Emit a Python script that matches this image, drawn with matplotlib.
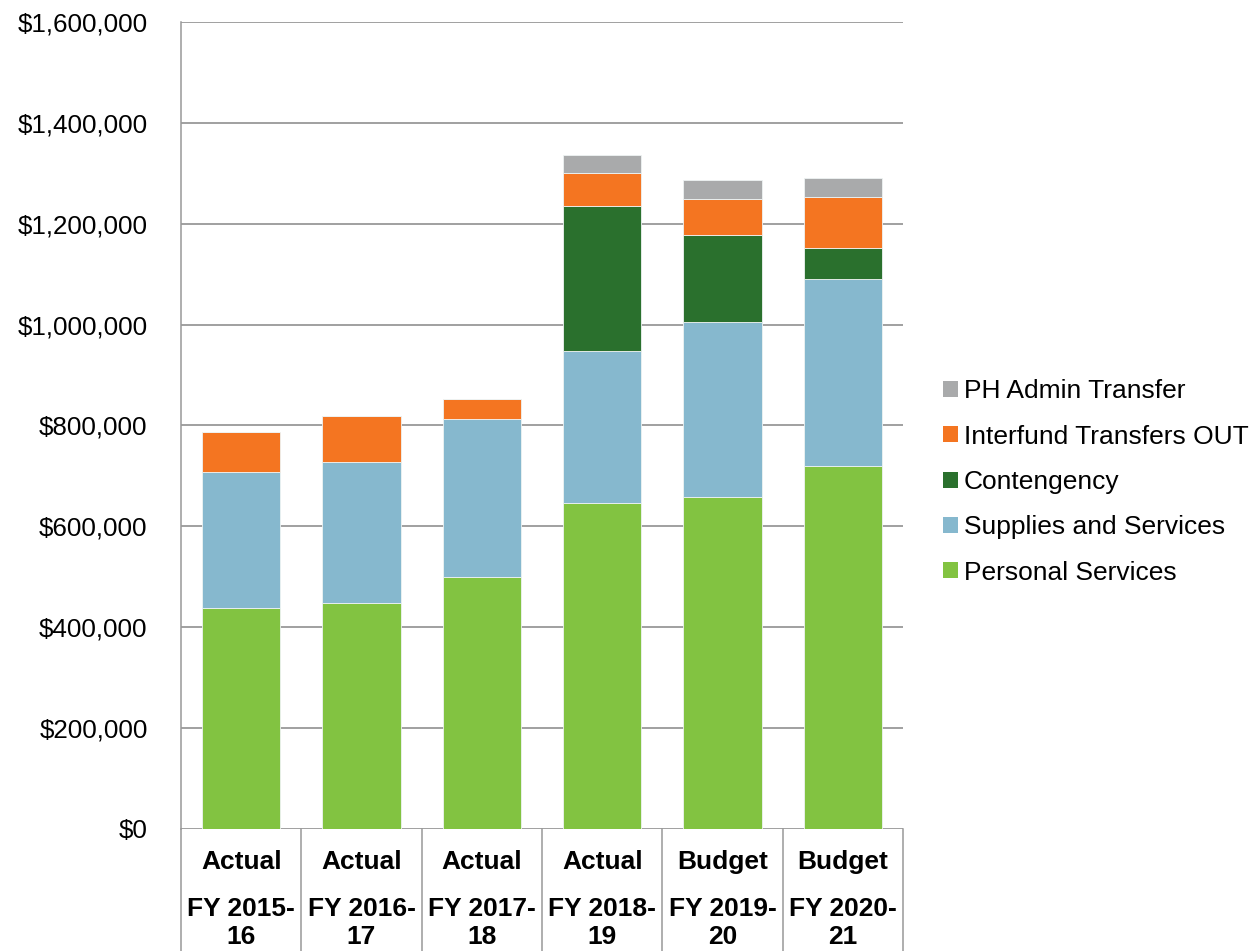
import matplotlib
matplotlib.use("Agg")
import matplotlib.pyplot as plt
from matplotlib.patches import Patch
from matplotlib.lines import Line2D
import matplotlib.transforms as mtransforms
import numpy as np

plt.rcParams['font.family'] = ['Liberation Sans', 'DejaVu Sans']

status_labels = ["Actual", "Actual", "Actual", "Actual", "Budget", "Budget"]
year_labels = ["FY 2015-\n16", "FY 2016-\n17", "FY 2017-\n18", "FY 2018-\n19", "FY 2019-\n20", "FY 2020-\n21"]

personal_services = [439000, 449000, 499000, 646000, 658000, 719000]
supplies_services = [268000, 278000, 314500, 301500, 346500, 371000]
contengency = [0, 0, 0, 288500, 173500, 62500]
interfund_transfers = [80000, 92000, 38500, 65500, 71000, 100500]
ph_admin_transfer = [0, 0, 0, 35000, 37000, 37000]

series_names = ["Personal Services", "Supplies and Services", "Contengency",
                "Interfund Transfers OUT", "PH Admin Transfer"]
series_values = [personal_services, supplies_services, contengency,
                 interfund_transfers, ph_admin_transfer]
colors = ["#82C341", "#86B8CE", "#2A702D", "#F47521", "#A9AAAB"]

yticks = [0, 200000, 400000, 600000, 800000, 1000000, 1200000, 1400000, 1600000]

fig = plt.figure(figsize=(12.54, 9.51), dpi=100)
ax = fig.add_axes([181/1254, 1-829/951, (903-181)/1254, (829-22)/951])

n = len(status_labels)
x = np.arange(n)
bottom = np.zeros(n)
for name, vals, c in zip(series_names, series_values, colors):
    v = np.array(vals, dtype=float)
    ax.bar(x, v, width=0.65, bottom=bottom, color=c, edgecolor="#eef3f3",
           linewidth=0.6, label=name, zorder=3)
    bottom += v

ax.set_xlim(-0.5, n - 0.5)
ax.set_ylim(0, 1600000)
ax.set_yticks(yticks)
ax.set_yticklabels([f"${v:,.0f}" for v in yticks], fontsize=18.7)
ax.tick_params(axis='y', length=0, pad=24)
ax.set_xticks([])
ax.grid(axis='y', color="#868686", linewidth=1.1, zorder=0)
for s in ["top", "right", "bottom"]:
    ax.spines[s].set_visible(False)
ax.spines["left"].set_color("#999999")
ax.spines["left"].set_linewidth(1.1)

trans = mtransforms.blended_transform_factory(ax.transData, ax.transAxes)
axh = 807.0
# separators
for b in np.arange(n + 1) - 0.5:
    ax.add_line(Line2D([b, b], [0, -125/axh], transform=trans, color="#999999",
                       linewidth=1.1, clip_on=False))
for i in range(n):
    ax.text(x[i], (829-862)/axh, status_labels[i], transform=trans, ha='center',
            va='center', fontsize=19, fontweight='bold')
    lines = year_labels[i].split("\n")
    for j, ln in enumerate(lines):
        ax.text(x[i], (829-(909+28*j))/axh, ln, transform=trans, ha='center',
                va='center', fontsize=19, fontweight='bold')

handles = [Patch(facecolor=c, edgecolor='none') for c in colors][::-1]
labels = series_names[::-1]
fig.legend(handles, labels, loc='center left', bbox_to_anchor=(943/1254, 1-482/951),
           frameon=False, fontsize=19, handlelength=0.55, handleheight=0.55,
           handletextpad=0.25, labelspacing=0.81, borderpad=0, borderaxespad=0)

fig.savefig("out.png", dpi=100)
